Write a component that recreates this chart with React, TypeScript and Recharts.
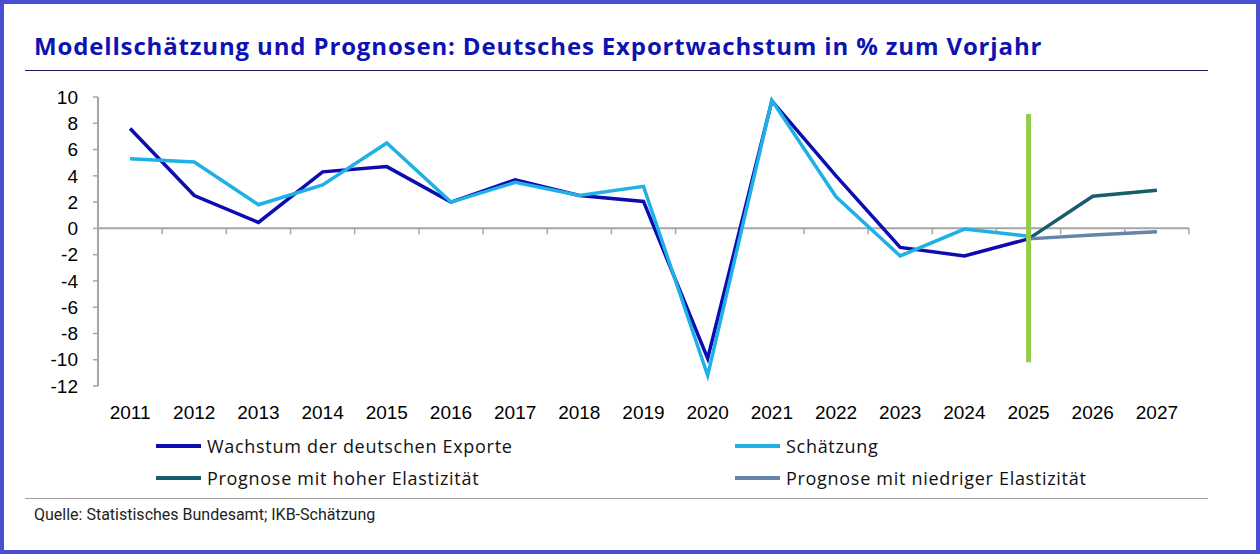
import { LineChart, Line, XAxis, YAxis, ReferenceLine } from 'recharts'

const years = [2011, 2012, 2013, 2014, 2015, 2016, 2017, 2018, 2019, 2020, 2021, 2022, 2023, 2024, 2025, 2026, 2027]
const exports = [7.6, 2.5, 0.45, 4.3, 4.7, 2.0, 3.7, 2.5, 2.05, -9.9, 9.7, 4.0, -1.45, -2.1, -0.8, null, null]
const estimate = [5.3, 5.05, 1.8, 3.3, 6.5, 2.0, 3.5, 2.5, 3.2, -11.2, 9.75, 2.4, -2.1, -0.05, -0.6, null, null]
const highElasticity = [null, null, null, null, null, null, null, null, null, null, null, null, null, null, -0.8, 2.45, 2.9]
const lowElasticity = [null, null, null, null, null, null, null, null, null, null, null, null, null, null, -0.8, -0.5, -0.25]
const yTicks = [-12, -10, -8, -6, -4, -2, 0, 2, 4, 6, 8, 10]

const data = years.map((year, i) => ({
  year,
  exports: exports[i],
  estimate: estimate[i],
  high: highElasticity[i],
  low: lowElasticity[i],
}))

const series = [
  { key: 'exports', name: 'Wachstum der deutschen Exporte', color: '#0c0cb0' },
  { key: 'estimate', name: 'Schätzung', color: '#1fb0e6' },
  { key: 'high', name: 'Prognose mit hoher Elastizität', color: '#175d6d' },
  { key: 'low', name: 'Prognose mit niedriger Elastizität', color: '#6484aa' },
]

const axisGrey = '#a6a6a6'
const tickFont = { fontSize: 19, fill: '#000', fontFamily: '"Liberation Sans", Arial, sans-serif' }

function LegendItem({ name, color, left, top }: { name: string; color: string; left: number; top: number }) {
  return (
    <div style={{ position: 'absolute', left, top, display: 'flex', alignItems: 'center', height: 24 }}>
      <div style={{ width: 45, height: 4, background: color, marginRight: 6 }} />
      <span
        style={{
          fontFamily: '"Open Sans", sans-serif',
          fontSize: 18,
          letterSpacing: 0.7,
          color: '#111',
          whiteSpace: 'nowrap',
        }}
      >
        {name}
      </span>
    </div>
  )
}

export default function App() {
  return (
    <div style={{ position: 'absolute', left: 0, top: 0, width: 1260, height: 554, background: '#fff', overflow: 'hidden' }}>
      <div
        style={{
          position: 'absolute',
          left: 34,
          top: 31,
          fontFamily: '"Open Sans", sans-serif',
          fontWeight: 700,
          fontSize: 24,
          letterSpacing: 0.85,
          lineHeight: '30px',
          color: '#0f12b2',
          whiteSpace: 'nowrap',
        }}
      >
        Modellschätzung und Prognosen: Deutsches Exportwachstum in % zum Vorjahr
      </div>
      <div style={{ position: 'absolute', left: 25, top: 70, width: 1183, height: 1, background: '#1a1a5e' }} />

      <div style={{ position: 'absolute', left: 0, top: 0 }}>
        <LineChart width={1260} height={554} data={data} margin={{ top: 97, right: 71, left: 0, bottom: 138 }}>
          <XAxis
            dataKey="year"
            type="number"
            domain={[2010.5, 2027.5]}
            ticks={years}
            axisLine={false}
            tickLine={false}
            tickSize={0}
            tickMargin={20}
            height={30}
            tick={tickFont}
            interval={0}
          />
          <YAxis
            type="number"
            domain={[-12, 10]}
            ticks={yTicks}
            width={98}
            axisLine={{ stroke: axisGrey, strokeWidth: 2 }}
            tickLine={{ stroke: axisGrey, strokeWidth: 1.5 }}
            tickSize={5}
            tickMargin={15}
            tick={tickFont}
            interval={0}
          />
          <ReferenceLine y={0} stroke={axisGrey} strokeWidth={2} />
          {years.map((y) => (
            <ReferenceLine
              key={y}
              segment={[
                { x: y + 0.5, y: 0 },
                { x: y + 0.5, y: -0.45 },
              ]}
              stroke={axisGrey}
              strokeWidth={1.5}
            />
          ))}
          {series.map((s) => (
            <Line
              key={s.key}
              dataKey={s.key}
              name={s.name}
              stroke={s.color}
              strokeWidth={3.5}
              dot={false}
              activeDot={false}
              isAnimationActive={false}
              connectNulls={false}
            />
          ))}
          <ReferenceLine
            segment={[
              { x: 2025, y: 8.7 },
              { x: 2025, y: -10.2 },
            ]}
            stroke="#92cc4a"
            strokeWidth={5}
          />
        </LineChart>
      </div>

      <LegendItem name={series[0].name} color={series[0].color} left={156} top={434} />
      <LegendItem name={series[1].name} color={series[1].color} left={735} top={434} />
      <LegendItem name={series[2].name} color={series[2].color} left={156} top={466} />
      <LegendItem name={series[3].name} color={series[3].color} left={735} top={466} />

      <div style={{ position: 'absolute', left: 25, top: 498, width: 1183, height: 1, background: '#a0a0a0' }} />
      <div
        style={{
          position: 'absolute',
          left: 34,
          top: 505,
          fontFamily: 'Roboto, sans-serif',
          fontSize: 16,
          color: '#222',
          whiteSpace: 'nowrap',
        }}
      >
        Quelle: Statistisches Bundesamt; IKB-Schätzung
      </div>

      <div
        style={{
          position: 'absolute',
          inset: 0,
          border: '4px solid #4a4fd2',
          pointerEvents: 'none',
        }}
      />
    </div>
  )
}
